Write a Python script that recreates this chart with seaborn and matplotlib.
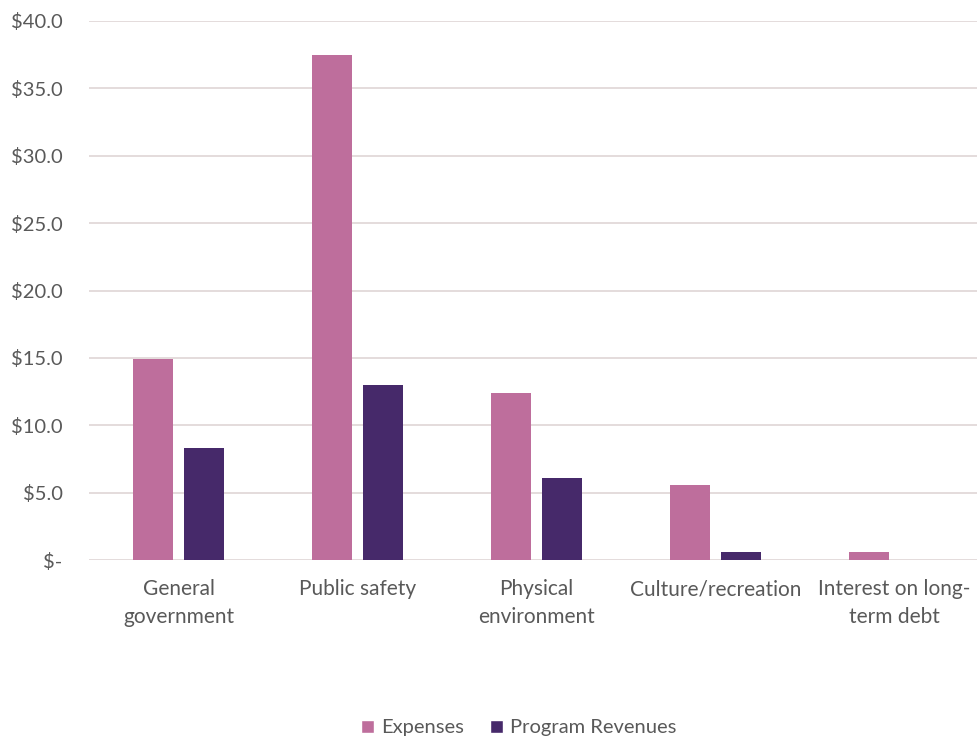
import matplotlib
matplotlib.use("Agg")
import matplotlib.pyplot as plt
import seaborn as sns
import pandas as pd
from matplotlib.ticker import FuncFormatter
from matplotlib.patches import Patch

categories = ["General\ngovernment", "Public safety", "Physical\nenvironment",
              "Culture/recreation", "Interest on long-\nterm debt"]
expenses = [14.9, 37.5, 12.4, 5.6, 0.6]
revenues = [8.3, 13.0, 6.1, 0.6, 0.0]
series = ["Expenses", "Program Revenues"]
colors = ["#BE6E9C", "#46296A"]

df = pd.DataFrame({
    "category": categories * 2,
    "value": expenses + revenues,
    "series": [series[0]] * len(categories) + [series[1]] * len(categories),
})

sns.set_theme(style="white")
plt.rcParams["font.family"] = ["Lato", "DejaVu Sans"]

fig = plt.figure(figsize=(9.77, 7.40), dpi=100)
ax = fig.add_axes([89 / 977, 1 - 560 / 740, 895 / 977, (560 - 21) / 740])

sns.barplot(data=df, x="category", y="value", hue="series", order=categories,
            hue_order=series, palette=colors, width=0.571, gap=0.21,
            saturation=1, linewidth=0, ax=ax, legend=False)

ax.set_ylim(0, 40)
ax.set_xlim(-0.5, 4.5)
ax.set_yticks(range(0, 41, 5))
ax.yaxis.set_major_formatter(FuncFormatter(lambda v, p: "$-" if v == 0 else f"${v:.1f}"))
ax.grid(axis="y", color="#E2D9D9", linewidth=1.3)
ax.set_axisbelow(True)
for s in ax.spines.values():
    s.set_visible(False)
ax.set_xlabel("")
ax.set_ylabel("")
ax.tick_params(axis="y", length=0, pad=19, labelsize=14.5, labelcolor="#595959")
ax.tick_params(axis="x", length=0, pad=14, labelsize=15, labelcolor="#595959")
for lbl in ax.get_xticklabels():
    lbl.set_linespacing(1.45)

handles = [Patch(facecolor=c, label=s) for c, s in zip(colors, series)]
fig.legend(handles=handles, loc="center", bbox_to_anchor=(519 / 977, 1 - 728 / 740),
           ncol=2, frameon=False, fontsize=14.5, labelcolor="#595959",
           handlelength=0.65, handleheight=0.65, handletextpad=0.35, columnspacing=1.3)

fig.savefig("out.png", dpi=100)
